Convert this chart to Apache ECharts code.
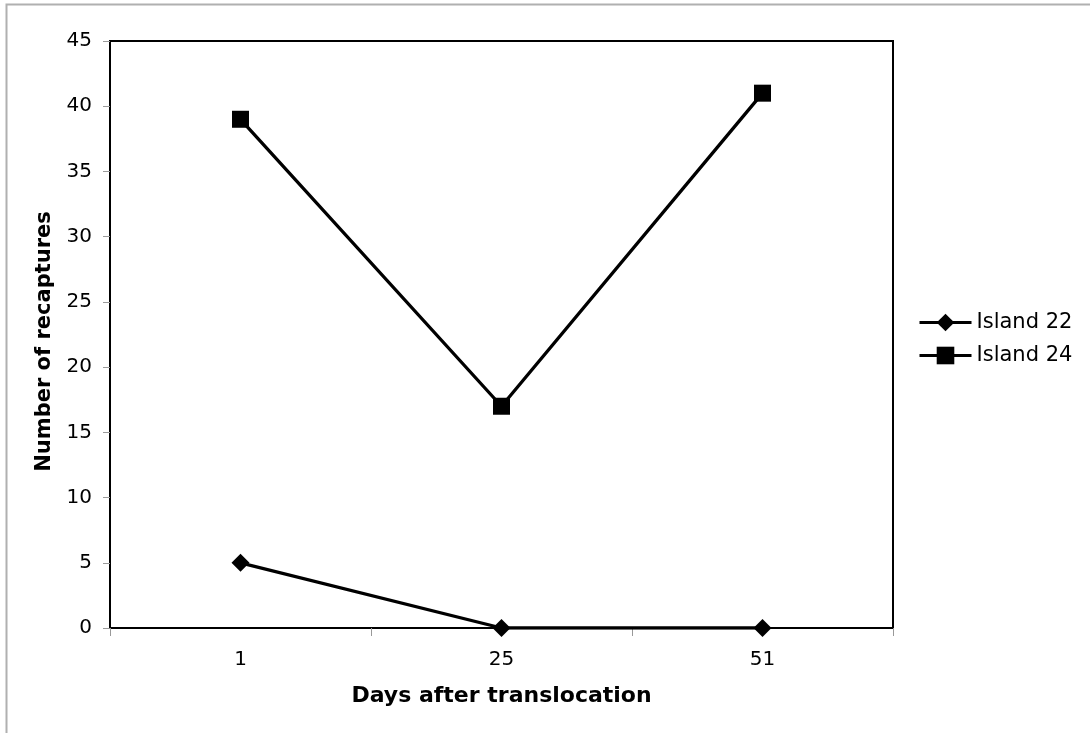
<!DOCTYPE html>
<html><head><meta charset="utf-8">
<script src="https://cdn.jsdelivr.net/npm/echarts@6/dist/echarts.min.js"></script>
<style>html,body{margin:0;padding:0;background:#fff}#c{width:1090px;height:733px}</style>
</head><body><div id="c"></div>
<script>
const categories = ['1', '25', '51'];
const island22 = [5, 0, 0];
const island24 = [39, 17, 41];
const yTicks = [0, 45, 5];

const chart = echarts.init(document.getElementById('c'), null, {renderer: 'canvas'});
const font = 'Verdana, "DejaVu Sans", sans-serif';
chart.setOption({
  animation: false,
  backgroundColor: '#fff',
  graphic: [{
    type: 'rect', shape: {x: 6.5, y: 4.5, width: 1200, height: 900},
    style: {fill: 'none', stroke: '#b0b0b0', lineWidth: 2}, silent: true, z: -1
  }],
  grid: {left: 110, top: 41, width: 783, height: 587, show: true, borderColor: '#000', borderWidth: 2, backgroundColor: '#fff'},
  legend: {
    left: 918, top: 312, padding: 0, orient: 'vertical', itemGap: 12, itemWidth: 52, itemHeight: 22,
    lineStyle: {width: 3, color: '#000'},
    textStyle: {fontFamily: font, fontSize: 21, color: '#000'},
    data: ['Island 22', 'Island 24']
  },
  xAxis: {
    type: 'category', data: categories, boundaryGap: true,
    name: 'Days after translocation', nameLocation: 'middle', nameGap: 57,
    nameTextStyle: {fontFamily: font, fontSize: 22, fontWeight: 'bold', color: '#000'},
    axisLine: {lineStyle: {color: '#000', width: 2}},
    axisTick: {show: true, length: 8, inside: false, lineStyle: {color: '#999', width: 1}},
    axisLabel: {fontFamily: font, fontSize: 20, color: '#000', margin: 22}
  },
  yAxis: {
    type: 'value', min: yTicks[0], max: yTicks[1], interval: yTicks[2],
    name: 'Number of recaptures', nameLocation: 'middle', nameGap: 55, nameRotate: 90,
    nameTextStyle: {fontFamily: font, fontSize: 21, fontWeight: 'bold', color: '#000', padding: [0, 14, 0, 0]},
    axisLine: {show: true, lineStyle: {color: '#000', width: 2}},
    axisTick: {show: true, length: 7, lineStyle: {color: '#999', width: 1}},
    splitLine: {show: false},
    axisLabel: {fontFamily: font, fontSize: 20, color: '#000', margin: 18}
  },
  series: [
    {name: 'Island 22', type: 'line', data: island22, symbol: 'diamond', symbolSize: 18,
     lineStyle: {color: '#000', width: 3.3}, itemStyle: {color: '#000'}},
    {name: 'Island 24', type: 'line', data: island24, symbol: 'rect', symbolSize: 17,
     lineStyle: {color: '#000', width: 3.3}, itemStyle: {color: '#000'}}
  ]
});
</script></body></html>
